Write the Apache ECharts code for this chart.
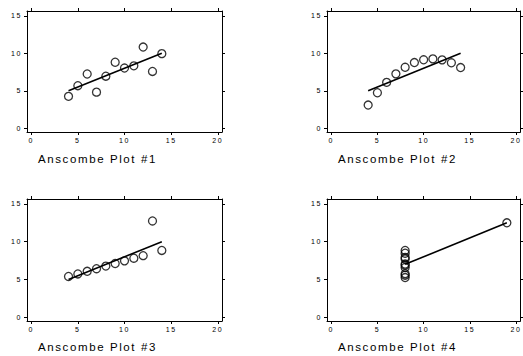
<!DOCTYPE html>
<html>
<head>
<meta charset="utf-8">
<script src="https://cdn.jsdelivr.net/npm/echarts@6/dist/echarts.min.js"></script>
<style>
  html, body { margin: 0; padding: 0; background: #fff; }
  #chart { width: 523px; height: 356px; }
  #chart text { letter-spacing: 1.6px; }
</style>
</head>
<body>
<div id="chart"></div>
<script>
// Anscombe data
var x123 = [10, 8, 13, 9, 11, 14, 6, 4, 12, 7, 5]
var y1 = [8.04, 6.95, 7.58, 8.81, 8.33, 9.96, 7.24, 4.26, 10.84, 4.82, 5.68]
var y2 = [9.14, 8.14, 8.74, 8.77, 9.26, 8.10, 6.13, 3.10, 9.13, 7.26, 4.74]
var y3 = [7.46, 6.77, 12.74, 7.11, 7.81, 8.84, 6.08, 5.39, 8.15, 6.42, 5.73]
var x4 = [8, 8, 8, 8, 8, 8, 8, 19, 8, 8, 8]
var y4 = [6.58, 5.76, 7.71, 8.84, 8.47, 7.04, 5.25, 12.50, 5.56, 7.91, 6.89]

// fitted line endpoints
var fit123 = [[4, 5], [14, 10]]
var fit4 = [[8, 7], [19, 12.5]]

var xTicks = [0, 5, 10, 15, 20]
var yTicks = [0, 5, 10, 15]
var titles = ['Anscombe Plot #1', 'Anscombe Plot #2', 'Anscombe Plot #3', 'Anscombe Plot #4']

var panels = [
  {x: x123, y: y1, fit: fit123},
  {x: x123, y: y2, fit: fit123},
  {x: x123, y: y3, fit: fit123},
  {x: x4, y: y4, fit: fit4}
]

var boxes = [
  {left: 27, top: 11, width: 195, height: 121},
  {left: 327, top: 11, width: 194, height: 121},
  {left: 27, top: 199, width: 195, height: 122},
  {left: 327, top: 199, width: 194, height: 122}
]
var titlePos = [
  {left: 38, top: 153},
  {left: 338, top: 153},
  {left: 38, top: 341},
  {left: 338, top: 341}
]

var labelFont = {color: '#000', fontSize: 7, fontFamily: 'Liberation Sans'}
var lineStyle = {color: '#000', width: 1}

var grid = [], xAxis = [], yAxis = [], series = [], title = []

panels.forEach(function (p, i) {
  grid.push(Object.assign({containLabel: false, show: false}, boxes[i]))
  // bottom + top
  xAxis.push({
    gridIndex: i, type: 'value', position: 'bottom', min: -0.45, max: 20.45,
    splitLine: {show: false},
    axisLine: {show: true, onZero: false, lineStyle: lineStyle},
    axisTick: {show: true, length: 3, customValues: xTicks, lineStyle: lineStyle},
    axisLabel: Object.assign({show: true, margin: 5, customValues: xTicks}, labelFont)
  })
  xAxis.push({
    gridIndex: i, type: 'value', position: 'top', min: -0.45, max: 20.45,
    splitLine: {show: false},
    axisLine: {show: true, onZero: false, lineStyle: lineStyle},
    axisTick: {show: true, length: 3, customValues: xTicks, lineStyle: lineStyle},
    axisLabel: {show: false}
  })
  yAxis.push({
    gridIndex: i, type: 'value', position: 'left', min: -0.5, max: 15.65,
    splitLine: {show: false},
    axisLine: {show: true, onZero: false, lineStyle: lineStyle},
    axisTick: {show: true, length: 3, customValues: yTicks, lineStyle: lineStyle},
    axisLabel: Object.assign({show: true, margin: 5, customValues: yTicks}, labelFont)
  })
  yAxis.push({
    gridIndex: i, type: 'value', position: 'right', min: -0.5, max: 15.65,
    splitLine: {show: false},
    axisLine: {show: true, onZero: false, lineStyle: lineStyle},
    axisTick: {show: true, length: 3, customValues: yTicks, lineStyle: lineStyle},
    axisLabel: {show: false}
  })
  series.push({
    type: 'scatter',
    xAxisIndex: i * 2,
    yAxisIndex: i * 2,
    data: p.x.map(function (v, k) { return [v, p.y[k]] }),
    symbol: 'circle',
    symbolSize: 8,
    itemStyle: {color: 'rgba(0,0,0,0)', borderColor: '#000', borderWidth: 1.3},
    z: 3
  })
  series.push({
    type: 'line',
    xAxisIndex: i * 2,
    yAxisIndex: i * 2,
    data: p.fit,
    showSymbol: false,
    lineStyle: {color: '#000', width: 1.6},
    z: 2
  })
  title.push({
    text: titles[i],
    left: titlePos[i].left,
    top: titlePos[i].top,
    padding: 0,
    textStyle: {color: '#000', fontSize: 11.5, fontWeight: 'normal', fontFamily: 'Liberation Sans'}
  })
})

var chart = echarts.init(document.getElementById('chart'), null, {renderer: 'svg'})
chart.setOption({
  backgroundColor: '#fff',
  animation: false,
  title: title,
  grid: grid,
  xAxis: xAxis,
  yAxis: yAxis,
  series: series
})
</script>
</body>
</html>
